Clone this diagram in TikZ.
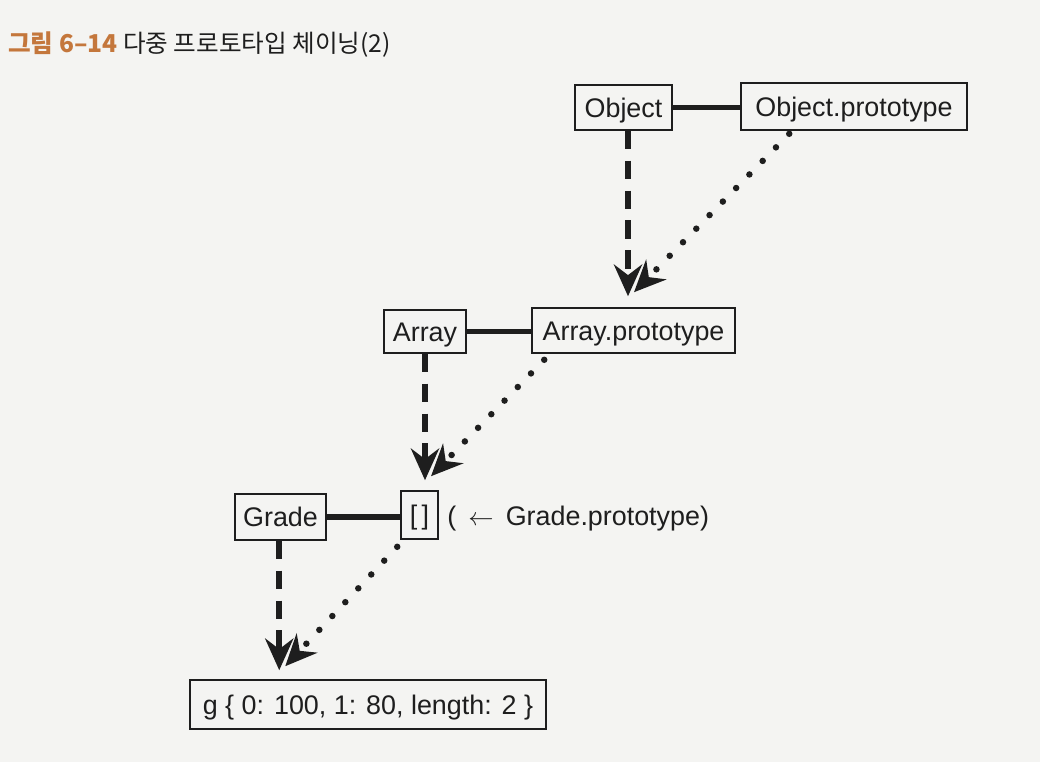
\documentclass[tikz,border=0pt]{standalone}
\usepackage{fontspec}
\setmainfont{Liberation Sans}
\newfontfamily\kr{Noto Sans CJK KR}
\usetikzlibrary{arrows.meta,calc}
\definecolor{ink}{HTML}{1E1E1E}
\definecolor{paper}{HTML}{F4F4F2}
\definecolor{titlec}{HTML}{C4773C}

\begin{document}
\begin{tikzpicture}[x=0.02cm,y=-0.02cm,
  label font/.style={font=\fontsize{15.3}{18}\selectfont},
  box/.style={draw=ink, line width=0.9pt, inner sep=0pt, text=ink, label font,
    text height=10.9pt, text depth=0pt},
  link/.style={ink, line width=3.2pt},
  tip/.style={-{Stealth[length=18pt,width=16pt,inset=6pt]}},
  dasharrow/.style={tip, ink, line width=3.4pt, dash pattern=on 10.5pt off 6.5pt},
  dotarrow/.style={tip, ink, line width=3.7pt, line cap=round,
    dash pattern=on 0pt off 10.8pt}]

% page
\fill[paper] (0,0) rectangle (1040,762);
\useasboundingbox (0,0) rectangle (1040,762);

% caption
\node[anchor=west, inner sep=0pt, text=ink, font=\kr\fontsize{14}{17}\selectfont]
  (title) at (8,45) {{\bfseries\color{titlec}그림 6–14} 다중 프로토타입 체이닝(2)};

% objects and prototypes
\node[box, minimum width=1.94cm, minimum height=0.90cm] (obj)    at (623.5,107.5) {Object};
\node[box, minimum width=4.52cm, minimum height=0.94cm] (op)     at (854,106.5)   {Object.prototype};
\node[box, minimum width=1.64cm, minimum height=0.86cm] (arr)    at (425,331.5)   {Array};
\node[box, minimum width=4.06cm, minimum height=0.90cm] (ap)     at (633.5,330.5) {Array.prototype};
\node[box, minimum width=1.82cm, minimum height=0.92cm] (grade)  at (280.5,517)   {Grade};
\node[box, minimum width=0.74cm, minimum height=0.96cm] (bx)     at (419.5,515)   {[\,]};
\node[anchor=west, inner sep=0pt, text=ink, label font, text height=10.9pt, text depth=0pt]
  (gpnote) at (447,516) {(\hspace{0.45em}$\leftarrow$\hspace{0.45em}Grade.prototype)};
\node[box, minimum width=7.12cm, minimum height=0.98cm] (g)      at (368,704.5)
  {g \{ 0: 100, 1: 80, length: 2 \}};

% constructor -- prototype links
\draw[link] (obj.east) -- (obj.east -| op.west);
\draw[link] (arr.east) -- (arr.east -| ap.west);
\draw[link] (grade.east) -- (grade.east -| bx.west);

% arrow tip positions
\coordinate (t1) at ($(ap.north)+(-5.5,-11)$);
\coordinate (t2) at ($(bx.north)+(5.5,-10)$);
\coordinate (t3) at ($(g.north west)+(90,-9)$);

% instance arrows (dashed)
\draw[dasharrow] (obj.south -| t1) -- (t1);
\draw[dasharrow] (arr.south -| t2) -- (t2);
\draw[dasharrow] (grade.south -| t3) -- (t3);

% prototype chain (dotted)
\draw[dotarrow] ($(op.south west)+(49,3)$) -- ($(t1)+(6,-4)$);
\draw[dotarrow] ($(ap.south west)+(13,6)$) -- ($(t2)+(6,-4)$);
\draw[dotarrow] ($(bx.south west)+(-3,7)$) -- ($(t3)+(6,-4)$);
\end{tikzpicture}
\end{document}
